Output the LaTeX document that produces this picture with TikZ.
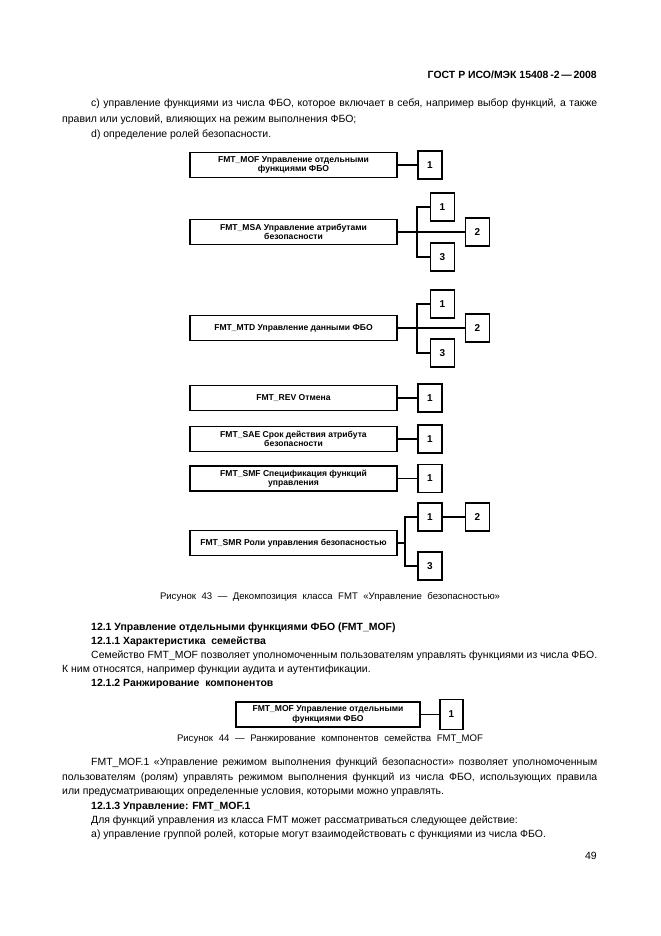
\documentclass[tikz,border=0pt]{standalone}
\usepackage{fontspec}
\setmainfont{Liberation Sans}

\newcommand{\bodyfont}{\fontsize{10.5}{13}\selectfont}
\newcommand{\capfont}{\fontsize{9.6}{12}\selectfont}
\newcommand{\boxfont}{\bfseries\fontsize{8.6}{9.6}\selectfont}

\begin{document}
\begin{tikzpicture}[line join=miter,
	txt/.style={anchor=base west,inner sep=0pt,font=\bodyfont},
	hd/.style={txt,font=\bodyfont\bfseries},
	fam/.style={draw,line width=1.6bp,minimum width=207bp,minimum height=25bp,inner sep=1bp,align=center,font=\boxfont},
	cmp/.style={draw,line width=1.6bp,minimum width=24bp,minimum height=28bp,inner sep=0pt,font=\bfseries\fontsize{10}{12}\selectfont},
	lnk/.style={line width=1.2bp}]
	%%
	\fill[white] (0bp,0bp) rectangle (661bp,936bp);
	\useasboundingbox (0bp,0bp) rectangle (661bp,936bp);

	% running head and text before the figure
	\node (hdr) at (597bp,857bp) [hd,anchor=base east] {ГОСТ Р ИСО/МЭК 15408\,-2\,—\,2008};
	\node (pc1) at (91bp,829bp) [txt] {\hbox to 506bp{c) управление функциями из числа ФБО, которое включает в себя, например выбор функций, а также}};
	\node (pc2) at (62bp,813bp) [txt] {правил или условий, влияющих на режим выполнения ФБО;};
	\node (pd) at (91bp,798bp) [txt] {d) определение ролей безопасности.};

	% figure 43
	\node (mof) at (293.5bp,771bp) [fam] {FMT\_MOF Управление отдельными\\функциями ФБО};
	  \node (mof1) at (430bp,771bp) [cmp] {1};
	\node (msa) at (293.5bp,704bp) [fam] {FMT\_MSA Управление атрибутами\\безопасности};
	  \node (msa1) at (442.5bp,729bp) [cmp] {1};
	  \node (msa2) at (477.5bp,704bp) [cmp] {2};
	  \node (msa3) at (442.5bp,679bp) [cmp] {3};
	  \coordinate (msaj) at (417bp,704bp);
	\node (mtd) at (293.5bp,608bp) [fam] {FMT\_MTD Управление данными ФБО};
	  \node (mtd1) at (442.5bp,632bp) [cmp] {1};
	  \node (mtd2) at (477.5bp,608bp) [cmp] {2};
	  \node (mtd3) at (442.5bp,583bp) [cmp] {3};
	  \coordinate (mtdj) at (417bp,608bp);
	\node (rev) at (293.5bp,538bp) [fam] {FMT\_REV Отмена};
	  \node (rev1) at (430bp,538bp) [cmp] {1};
	\node (sae) at (293.5bp,497bp) [fam] {FMT\_SAE Срок действия атрибута\\безопасности};
	  \node (sae1) at (430bp,497bp) [cmp] {1};
	\node (smf) at (293.5bp,457.5bp) [fam] {FMT\_SMF Спецификация функций\\управления};
	  \node (smf1) at (430bp,457.5bp) [cmp] {1};
	\node (smr) at (293.5bp,393bp) [fam] {FMT\_SMR Роли управления безопасностью};
	  \node (smr1) at (430bp,419bp) [cmp] {1};
	  \node (smr2) at (477.5bp,419bp) [cmp] {2};
	  \node (smr3) at (430bp,370bp) [cmp] {3};
	  \coordinate (smrj) at (405bp,393bp);

	\draw [lnk] (mof) -- (mof1);
	\draw [lnk] (msa) -- (msa2);
	\draw [lnk] (msa1.west) -| (msaj) |- (msa3.west);
	\draw [lnk] (mtd) -- (mtd2);
	\draw [lnk] (mtd1.west) -| (mtdj) |- (mtd3.west);
	\draw [lnk] (rev) -- (rev1);
	\draw [lnk] (sae) -- (sae1);
	\draw [lnk] (smf) -- (smf1);
	\draw [lnk] (smr.east) -- (smrj);
	\draw [lnk] (smr1.west) -| (smrj) |- (smr3.west);
	\draw [lnk] (smr1) -- (smr2);

	\node (cap43) at (330bp,336bp) [txt,anchor=base,font=\capfont] {\hbox to 340bp{Рисунок 43 — Декомпозиция класса FMT «Управление безопасностью»}};

	% 12.1
	\node (h121) at (91bp,305bp) [hd] {12.1 Управление отдельными функциями ФБО (FMT\_MOF)};
	\node (h1211) at (91bp,291bp) [hd] {12.1.1 Характеристика~~семейства};
	\node (p1211a) at (91bp,277bp) [txt] {\hbox to 506bp{Семейство FMT\_MOF позволяет уполномоченным пользователям управлять функциями из числа ФБО.}};
	\node (p1211b) at (62bp,263bp) [txt] {К ним относятся, например функции аудита и аутентификации.};
	\node (h1212) at (91bp,249bp) [hd] {12.1.2 Ранжирование~~компонентов};

	% figure 44
	\node (mofb) at (328bp,221.5bp) [fam,minimum width=184bp] {FMT\_MOF Управление отдельными\\функциями ФБО};
	  \node (mofb1) at (451.5bp,221.5bp) [cmp,minimum width=23bp,minimum height=30bp] {1};
	\draw [lnk] (mofb) -- (mofb1);
	\node (cap44) at (330bp,194bp) [txt,anchor=base,font=\capfont] {\hbox to 306bp{Рисунок 44 — Ранжирование компонентов семейства FMT\_MOF}};

	% text after figure 44
	\node (pm1) at (91bp,170bp) [txt] {\hbox to 506bp{FMT\_MOF.1 «Управление режимом выполнения функций безопасности» позволяет уполномоченным}};
	\node (pm2) at (62bp,155bp) [txt] {\hbox to 535bp{пользователям (ролям) управлять режимом выполнения функций из числа ФБО, использующих правила}};
	\node (pm3) at (62bp,141bp) [txt] {или предусматривающих определенные условия, которыми можно управлять.};
	\node (h1213) at (91bp,126bp) [hd] {12.1.3 Управление: FMT\_MOF.1};
	\node (pu1) at (91bp,112bp) [txt] {Для функций управления из класса FMT может рассматриваться следующее действие:};
	\node (pu2) at (91bp,98bp) [txt] {а) управление группой ролей, которые могут взаимодействовать с функциями из числа ФБО.};

	\node (pgno) at (597bp,76bp) [txt,anchor=base east] {49};
	%
\end{tikzpicture}
\end{document}
